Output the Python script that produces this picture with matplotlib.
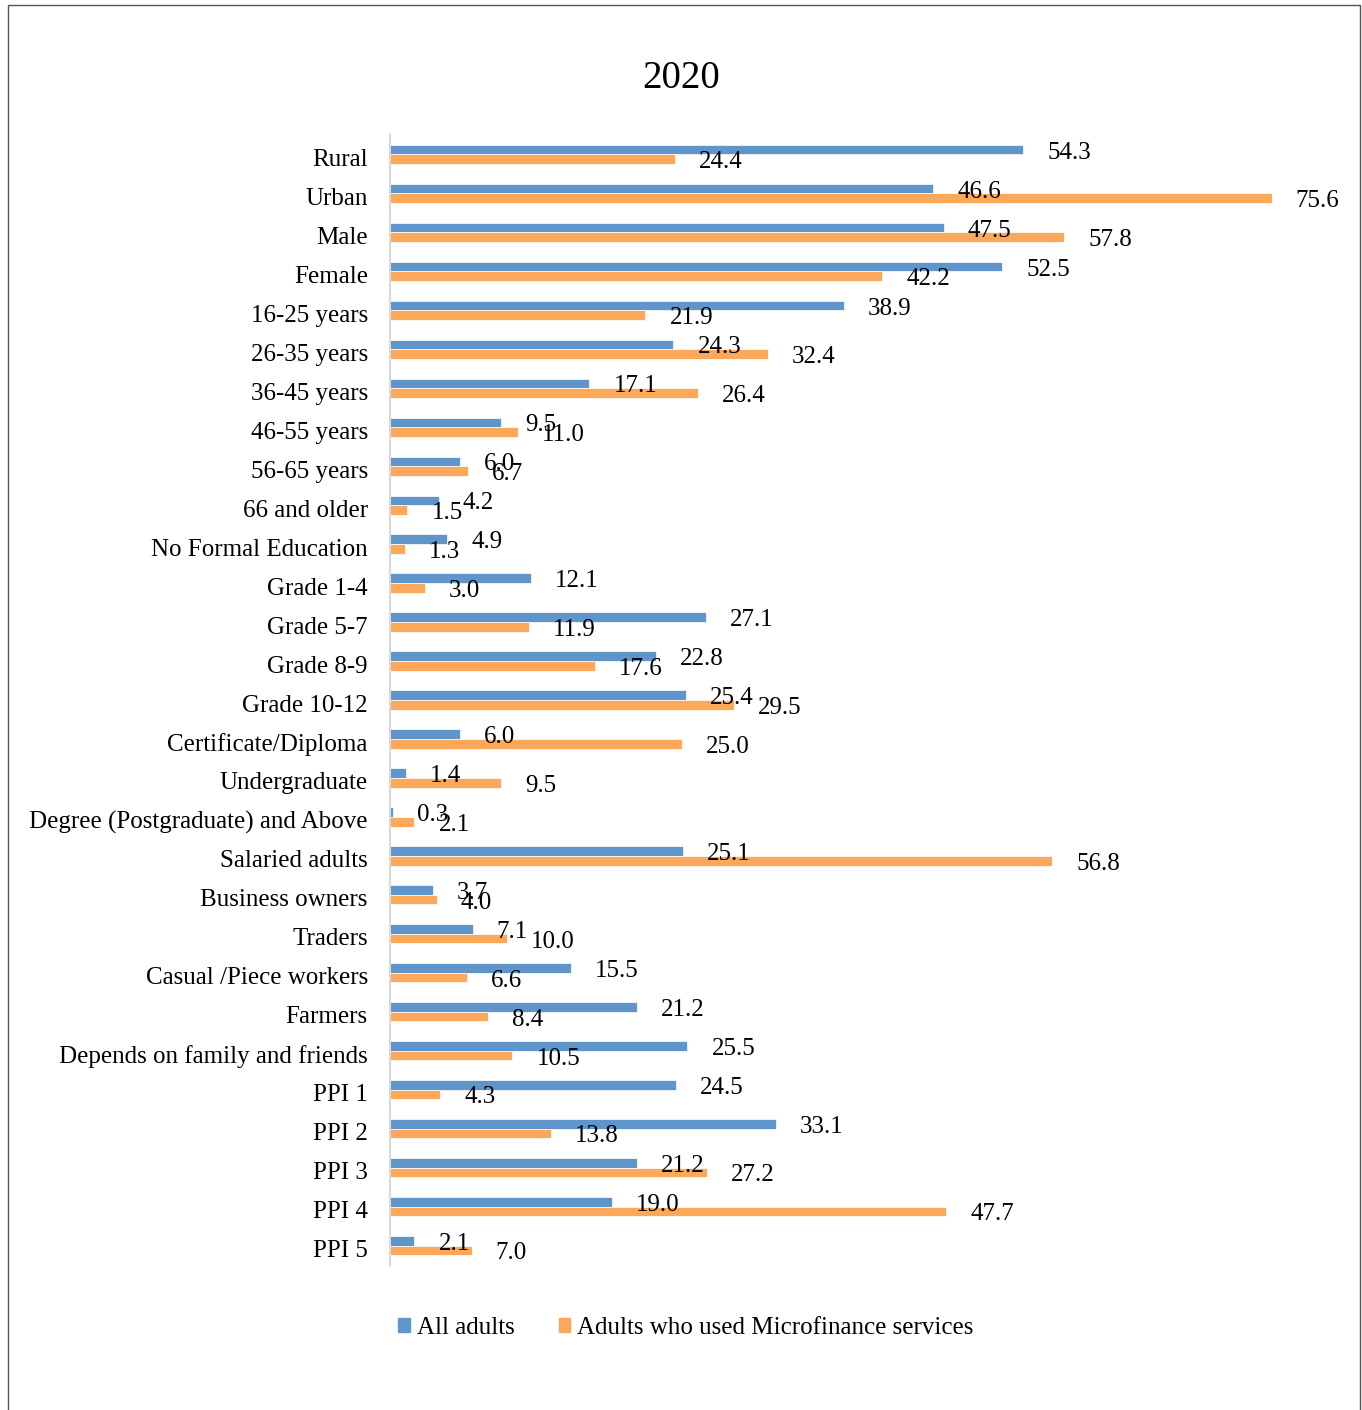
import matplotlib
matplotlib.use("Agg")
from matplotlib import pyplot as plt
from matplotlib.patches import Rectangle, Patch
from matplotlib.transforms import ScaledTranslation
import numpy as np

categories = ["Rural", "Urban", "Male", "Female", "16-25 years", "26-35 years",
              "36-45 years", "46-55 years", "56-65 years", "66 and older",
              "No Formal Education", "Grade 1-4", "Grade 5-7", "Grade 8-9",
              "Grade 10-12", "Certificate/Diploma", "Undergraduate",
              "Degree (Postgraduate) and Above", "Salaried adults",
              "Business owners", "Traders", "Casual /Piece workers", "Farmers",
              "Depends on family and friends", "PPI 1", "PPI 2", "PPI 3",
              "PPI 4", "PPI 5"]
all_adults = [54.3, 46.6, 47.5, 52.5, 38.9, 24.3, 17.1, 9.5, 6.0, 4.2,
              4.9, 12.1, 27.1, 22.8, 25.4, 6.0, 1.4, 0.3, 25.1,
              3.7, 7.1, 15.5, 21.2, 25.5, 24.5, 33.1, 21.2, 19.0, 2.1]
microfinance = [24.4, 75.6, 57.8, 42.2, 21.9, 32.4, 26.4, 11.0, 6.7, 1.5,
                1.3, 3.0, 11.9, 17.6, 29.5, 25.0, 9.5, 2.1, 56.8,
                4.0, 10.0, 6.6, 8.4, 10.5, 4.3, 13.8, 27.2, 47.7, 7.0]

blue = "#5f95ca"
orange = "#fba85a"
plt.rcParams['font.family'] = ['Liberation Serif', 'DejaVu Serif']

W, H = 1362, 1410
fig = plt.figure(figsize=(W / 100, H / 100), dpi=100)
ax = fig.add_axes([390 / W, 1 - 1265 / H, 933 / W, 1130 / H])

y = np.arange(len(categories))
bh = 0.248
ax.barh(y - bh / 2, all_adults, height=bh, color=blue, edgecolor="white", linewidth=0.5)
ax.barh(y + bh / 2, microfinance, height=bh, color=orange, edgecolor="white", linewidth=0.5)

# value labels (some overlap, as in the original)
for i in range(len(categories)):
    ax.annotate("%.1f" % all_adults[i], (all_adults[i], y[i] - bh / 2),
                xytext=(24, -3), textcoords="offset pixels", va="center",
                ha="left", fontsize=18)
    ax.annotate("%.1f" % microfinance[i], (microfinance[i], y[i] + bh / 2),
                xytext=(24, -3), textcoords="offset pixels", va="center",
                ha="left", fontsize=18)

ax.set_xlim(0, 80)
ax.set_ylim(len(categories) - 0.5, -0.5)
ax.set_yticks(y)
ax.set_yticklabels(categories, fontsize=18)
ax.tick_params(axis="y", length=0, pad=16)
shift = ScaledTranslation(0, -3 / 100, fig.dpi_scale_trans)
for lab in ax.get_yticklabels():
    lab.set_transform(lab.get_transform() + shift)
ax.set_xticks([])
for s in ["top", "right", "bottom"]:
    ax.spines[s].set_visible(False)
ax.spines["left"].set_color("#d9d9d9")
ax.spines["left"].set_linewidth(1.5)

fig.text(681 / W, 1 - 79 / H, "2020", ha="center", va="center", fontsize=28)

handles = [Patch(color=blue), Patch(color=orange)]
fig.legend(handles, ["All adults", "Adults who used Microfinance services"],
           loc="center", bbox_to_anchor=(686 / W, 1 - 1328 / H), ncol=2,
           frameon=False, fontsize=18, handlelength=0.45, handleheight=0.45,
           handletextpad=0.3, columnspacing=1.75)

fig.patches.append(Rectangle((8 / W, -0.01), (1360 - 8) / W, 1 - 5 / H + 0.01,
                             transform=fig.transFigure, fill=False,
                             edgecolor="#555555", linewidth=1))

fig.savefig("out.png", dpi=100)
